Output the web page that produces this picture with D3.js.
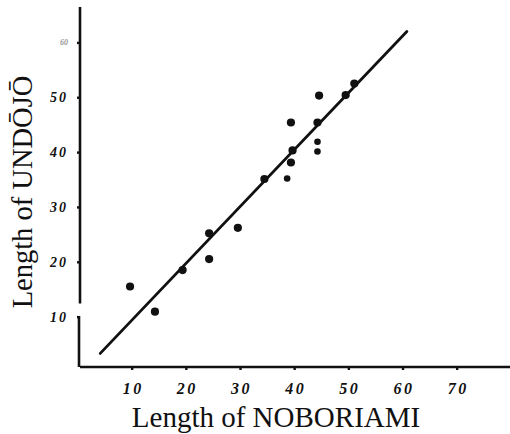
<!DOCTYPE html>
<html>
<head>
<meta charset="utf-8">
<script src="https://cdn.jsdelivr.net/npm/d3@7"></script>
<style>
  html, body { margin: 0; padding: 0; background: #fff; }
  svg { display: block; }
  .tick text { font-family: "Liberation Serif", "DejaVu Serif", serif; font-style: italic; font-weight: bold; }
  .axis-title { font-family: "Liberation Serif", "DejaVu Serif", serif; fill: #111; }
</style>
</head>
<body>
<div id="chart"></div>
<script>
// data
const noboriami = [9.7, 14.3, 19.4, 24.3, 24.3, 29.6, 34.5, 38.7, 39.4, 39.7, 39.4, 44.3, 44.3, 44.3, 44.6, 49.5, 51.1];
const undojo    = [15.5, 10.9, 18.5, 25.2, 20.5, 26.2, 35.1, 35.2, 38.1, 40.3, 45.4, 40.1, 41.9, 45.4, 50.3, 50.4, 52.5];
const fitX = [4.2, 60.8];
const fitY = [3.3, 62.0];
const xTicks = [10, 20, 30, 40, 50, 60, 70];
const yTicks = [10, 20, 30, 40, 50, 60];
const xTitle = "Length of NOBORIAMI";
const yTitle = "Length of UNDŌJŌ";

// which dots are drawn smaller in the print
const smallDots = [7, 11, 12];

const width = 510;
const height = 434;

// frame of the plot, in pixels
const axisLeft = 80;
const axisBottom = 367;
const axisTop = 7;
const axisRight = 510;

const svg = d3.select("#chart").append("svg")
  .attr("width", width)
  .attr("height", height);

// scales
const x = d3.scaleLinear().domain([0, 70]).range([77.5, 456.7]);
const y = d3.scaleLinear().domain([0, 60]).range([371.5, 42.4]);

// axis lines (the vertical one has a small break near 10)
const axisLines = svg.append("g")
  .attr("stroke", "#111")
  .attr("stroke-width", 2.6)
  .attr("fill", "none");

axisLines.append("line")
  .attr("x1", axisLeft).attr("x2", axisRight)
  .attr("y1", axisBottom).attr("y2", axisBottom);

axisLines.append("line")
  .attr("x1", axisLeft).attr("x2", axisLeft)
  .attr("y1", axisTop).attr("y2", y(12.4));

axisLines.append("line")
  .attr("x1", axisLeft - 1).attr("x2", axisLeft - 1)
  .attr("y1", y(10.1)).attr("y2", axisBottom);

// axes with ticks
const xAxis = d3.axisBottom(x)
  .tickValues(xTicks)
  .tickSize(3)
  .tickPadding(13)
  .tickFormat(d3.format("d"));

svg.append("g")
  .attr("class", "axis x-axis")
  .attr("transform", `translate(0,${axisBottom})`)
  .call(xAxis)
  .call(g => g.select(".domain").remove())
  .call(g => g.selectAll(".tick line").attr("stroke", "#111").attr("stroke-width", 2.4))
  .call(g => g.selectAll(".tick text")
    .attr("font-size", 16)
    .attr("letter-spacing", 2.5)
    .attr("dx", 1)
    .attr("fill", "#111"));

const yAxis = d3.axisLeft(y)
  .tickValues(yTicks)
  .tickSize(3)
  .tickPadding(9)
  .tickFormat(d3.format("d"));

svg.append("g")
  .attr("class", "axis y-axis")
  .attr("transform", `translate(${axisLeft},0)`)
  .call(yAxis)
  .call(g => g.select(".domain").remove())
  .call(g => g.selectAll(".tick line").attr("stroke", "#111").attr("stroke-width", 2.4))
  .call(g => g.selectAll(".tick text")
    .attr("font-size", d => d === 60 ? 8 : 14)
    .attr("letter-spacing", d => d === 60 ? 0 : 2)
    .attr("fill", d => d === 60 ? "#999" : "#111"));

// fitted line
const line = d3.line()
  .x(d => x(d[0]))
  .y(d => y(d[1]));

svg.append("path")
  .datum(d3.zip(fitX, fitY))
  .attr("fill", "none")
  .attr("stroke", "#111")
  .attr("stroke-width", 2.8)
  .attr("stroke-linecap", "round")
  .attr("d", line);

// observations
svg.append("g")
  .selectAll("circle")
  .data(d3.zip(noboriami, undojo))
  .enter().append("circle")
    .attr("cx", d => x(d[0]))
    .attr("cy", d => y(d[1]))
    .attr("r", (d, i) => smallDots.includes(i) ? 3.3 : 4.1)
    .attr("fill", "#111");

// axis titles
svg.append("text")
  .attr("class", "axis-title")
  .attr("x", 276)
  .attr("y", 427)
  .attr("text-anchor", "middle")
  .attr("font-size", 29)
  .text(xTitle);

svg.append("text")
  .attr("class", "axis-title")
  .attr("transform", `translate(32,${192}) rotate(-90)`)
  .attr("text-anchor", "middle")
  .attr("font-size", 28.5)
  .text(yTitle);
</script>
</body>
</html>
